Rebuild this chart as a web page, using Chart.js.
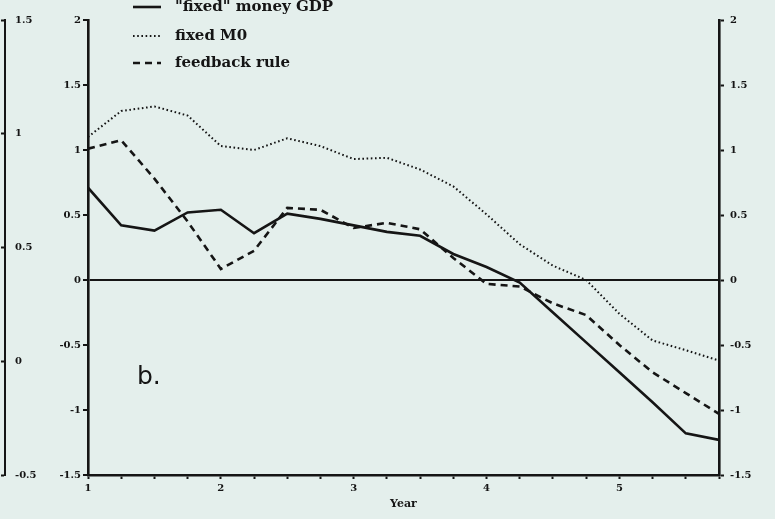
<!DOCTYPE html>
<html>
<head>
<meta charset="utf-8">
<script src="https://cdn.jsdelivr.net/npm/chart.js@4/dist/chart.umd.min.js"></script>
<style>
  html, body { margin: 0; padding: 0; background: #e4efec; }
  #wrap { width: 775px; height: 519px; }
</style>
</head>
<body>
<div id="wrap"><canvas id="c" width="775" height="519"></canvas></div>
<script>
// Quarterly observations, years 1 to 5.75
const years = [1, 1.25, 1.5, 1.75, 2, 2.25, 2.5, 2.75, 3, 3.25, 3.5, 3.75, 4, 4.25, 4.5, 4.75, 5, 5.25, 5.5, 5.75];
const fixedMoneyGDP = [0.71, 0.42, 0.38, 0.52, 0.54, 0.36, 0.51, 0.47, 0.42, 0.37, 0.34, 0.20, 0.10, -0.02, -0.25, -0.48, -0.71, -0.94, -1.18, -1.23];
const fixedM0 = [1.10, 1.30, 1.335, 1.265, 1.03, 1.00, 1.09, 1.03, 0.93, 0.94, 0.85, 0.72, 0.505, 0.275, 0.11, 0.0, -0.26, -0.465, -0.54, -0.62];
const feedbackRule = [1.01, 1.075, 0.78, 0.45, 0.085, 0.225, 0.555, 0.54, 0.40, 0.44, 0.39, 0.17, -0.03, -0.05, -0.18, -0.27, -0.50, -0.71, -0.87, -1.03];

const seriesLabels = ['"fixed" money GDP', 'fixed M0', 'feedback rule'];
const xTickLabels = [1, 2, 3, 4, 5];
const yTicks = [-1.5, -1, -0.5, 0, 0.5, 1, 1.5, 2];
const outerTicks = [-0.5, 0, 0.5, 1, 1.5];
const panelLabel = 'b.';
const xTitle = 'Year';

const ink = '#151515';
const paper = '#e4efec';
const tickFont = { family: 'DejaVu Serif', weight: 'bold', size: 10 };

const pts = arr => years.map((x, i) => ({ x, y: arr[i] }));
const fmt = v => String(v);

// Legend drawn over the top of the plot, plus the panel letter
const overlay = {
  id: 'overlay',
  afterDraw(chart) {
    const ctx = chart.ctx;
    ctx.save();
    const rows = [7, 36, 63];
    chart.data.datasets.forEach((ds, i) => {
      const y = rows[i];
      ctx.beginPath();
      ctx.strokeStyle = ink;
      ctx.lineWidth = ds.borderWidth;
      ctx.setLineDash(ds.borderDash || []);
      ctx.moveTo(133, y);
      ctx.lineTo(161, y);
      ctx.stroke();
      ctx.setLineDash([]);
      ctx.fillStyle = ink;
      ctx.font = 'bold 15px "DejaVu Serif"';
      ctx.textBaseline = 'middle';
      ctx.textAlign = 'left';
      ctx.fillText(ds.label, 175, y);
    });
    ctx.font = '25px "DejaVu Sans"';
    ctx.textBaseline = 'middle';
    ctx.fillText(panelLabel, 137, 377);
    ctx.restore();
  }
};

const bg = {
  id: 'bg',
  beforeDraw(chart) {
    const ctx = chart.ctx;
    ctx.save();
    ctx.fillStyle = paper;
    ctx.fillRect(0, 0, chart.width, chart.height);
    ctx.restore();
  }
};

new Chart(document.getElementById('c'), {
  type: 'line',
  data: {
    datasets: [
      { label: seriesLabels[0], data: pts(fixedMoneyGDP), borderColor: ink, borderWidth: 2.6, yAxisID: 'y' },
      { label: seriesLabels[1], data: pts(fixedM0), borderColor: ink, borderWidth: 2, borderDash: [1.6, 2.6], yAxisID: 'y' },
      { label: seriesLabels[2], data: pts(feedbackRule), borderColor: ink, borderWidth: 2.6, borderDash: [7, 5], yAxisID: 'y' }
    ]
  },
  options: {
    responsive: false,
    animation: false,
    events: [],
    layout: { padding: { top: 20, left: 0, right: 0, bottom: 0 } },
    elements: { point: { radius: 0 }, line: { tension: 0, borderCapStyle: 'butt' } },
    plugins: { legend: { display: false }, tooltip: { enabled: false } },
    scales: {
      x: {
        type: 'linear',
        min: 1, max: 5.75,
        afterBuildTicks: s => { s.ticks = years.map(v => ({ value: v })); },
        afterFit: s => { s.height = 44; },
        ticks: {
          autoSkip: false,
          maxRotation: 0,
          padding: 3,
          color: ink,
          font: tickFont,
          callback: v => xTickLabels.includes(v) ? fmt(v) : ''
        },
        grid: { drawOnChartArea: false, drawTicks: true, tickLength: 4, tickColor: ink, tickWidth: 2 },
        border: { display: true, color: ink, width: 2.6 },
        title: {
          display: true, text: xTitle, color: ink,
          font: { family: 'DejaVu Serif', weight: 'bold', size: 11 },
          padding: { top: 0, bottom: 8 }
        }
      },
      y: {
        position: 'left',
        min: -1.5, max: 2,
        weight: 0,
        afterBuildTicks: s => { s.ticks = yTicks.map(v => ({ value: v })); },
        afterFit: s => { s.width = 83; },
        ticks: { color: ink, font: tickFont, padding: 2, callback: v => fmt(v) },
        grid: {
          drawOnChartArea: true,
          color: c => (c.tick && c.tick.value === 0) ? ink : 'rgba(0,0,0,0)',
          lineWidth: 2,
          tickColor: ink, tickWidth: 2, tickLength: 5
        },
        border: { display: true, color: ink, width: 2.6 }
      },
      yOuter: {
        position: 'left',
        min: -0.5, max: 1.5,
        weight: 1,
        afterBuildTicks: s => { s.ticks = outerTicks.map(v => ({ value: v })); },
        afterFit: s => { s.width = 5; },
        ticks: { mirror: true, color: ink, font: tickFont, padding: 10, callback: v => fmt(v) },
        grid: { drawOnChartArea: false, tickColor: ink, tickWidth: 2, tickLength: 4 },
        border: { display: true, color: ink, width: 2 }
      },
      yRight: {
        position: 'right',
        min: -1.5, max: 2,
        afterBuildTicks: s => { s.ticks = yTicks.map(v => ({ value: v })); },
        afterFit: s => { s.width = 56; },
        ticks: { color: ink, font: tickFont, padding: 6, callback: v => fmt(v) },
        grid: { drawOnChartArea: false, tickColor: ink, tickWidth: 2, tickLength: 5 },
        border: { display: true, color: ink, width: 2.6 }
      }
    }
  },
  plugins: [bg, overlay]
});
</script>
</body>
</html>
